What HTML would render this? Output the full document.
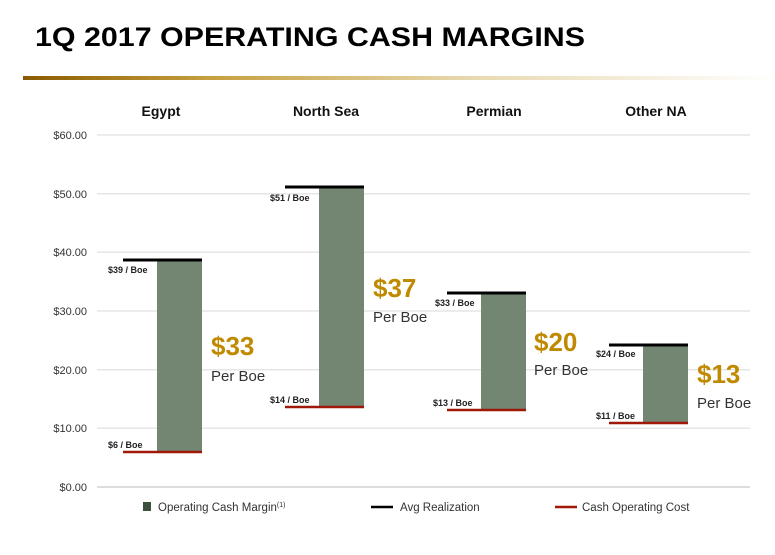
<!DOCTYPE html>
<html><head><meta charset="utf-8"><style>
html,body{margin:0;padding:0;background:#fff;}
svg{display:block;font-family:"Liberation Sans",sans-serif;}
</style></head><body>
<svg width="775" height="555" viewBox="0 0 775 555">
<defs>
<linearGradient id="g" x1="0" x2="1" y1="0" y2="0">
<stop offset="0" stop-color="#8a5a00"/><stop offset="0.25" stop-color="#c7a040"/><stop offset="0.6" stop-color="#e8d9b0"/><stop offset="1" stop-color="#fff"/>
</linearGradient>
</defs>
<text x="35" y="46" font-size="27" font-weight="bold" textLength="550" lengthAdjust="spacingAndGlyphs" fill="#000">1Q 2017 OPERATING CASH MARGINS</text>
<rect x="23" y="76" width="752" height="4" fill="url(#g)"/>
<g font-size="14" font-weight="bold" fill="#111" text-anchor="middle">
<text x="161" y="116">Egypt</text><text x="326" y="116">North Sea</text><text x="494" y="116">Permian</text><text x="656" y="116">Other NA</text>
</g>
<g stroke="#e6e6e6" stroke-width="1.5">
<line x1="97" x2="750" y1="135" y2="135"/><line x1="97" x2="750" y1="193.7" y2="193.7"/><line x1="97" x2="750" y1="252.3" y2="252.3"/><line x1="97" x2="750" y1="311" y2="311"/><line x1="97" x2="750" y1="369.7" y2="369.7"/><line x1="97" x2="750" y1="428.3" y2="428.3"/><line x1="97" x2="750" y1="487" y2="487" stroke="#ddd" stroke-width="2"/>
</g>
<g font-size="11" fill="#333" text-anchor="end">
<text x="87" y="139">$60.00</text><text x="87" y="198">$50.00</text><text x="87" y="256">$40.00</text><text x="87" y="315">$30.00</text><text x="87" y="374">$20.00</text><text x="87" y="432">$10.00</text><text x="87" y="491">$0.00</text>
</g>
<g fill="#728672">
<rect x="157" y="260" width="45" height="192"/>
<rect x="319" y="187" width="45" height="220"/>
<rect x="481" y="293" width="45" height="117"/>
<rect x="643" y="345" width="45" height="78"/>
</g>
<g stroke="#000" stroke-width="3">
<line x1="123" x2="202" y1="260" y2="260"/><line x1="285" x2="364" y1="187" y2="187"/><line x1="447" x2="526" y1="293" y2="293"/><line x1="609" x2="688" y1="345" y2="345"/>
</g>
<g stroke="#a01808" stroke-width="2.5">
<line x1="123" x2="202" y1="452" y2="452"/><line x1="285" x2="364" y1="407" y2="407"/><line x1="447" x2="526" y1="410" y2="410"/><line x1="609" x2="688" y1="423" y2="423"/>
</g>
<g font-size="9" font-weight="bold" fill="#222">
<text x="108" y="273">$39 / Boe</text><text x="108" y="448">$6 / Boe</text>
<text x="270" y="201">$51 / Boe</text><text x="270" y="403">$14 / Boe</text>
<text x="435" y="306">$33 / Boe</text><text x="433" y="406">$13 / Boe</text>
<text x="596" y="357">$24 / Boe</text><text x="596" y="419">$11 / Boe</text>
</g>
<g font-size="26" font-weight="bold" fill="#c08a00">
<text x="211" y="355">$33</text><text x="373" y="297">$37</text><text x="534" y="351">$20</text><text x="697" y="383">$13</text>
</g>
<g font-size="15" fill="#333">
<text x="211" y="381">Per Boe</text><text x="373" y="322">Per Boe</text><text x="534" y="375">Per Boe</text><text x="697" y="408">Per Boe</text>
</g>
<rect x="143" y="502" width="8" height="9" fill="#3d4f3d"/>
<text x="158" y="511" font-size="11.5" fill="#333">Operating Cash Margin<tspan font-size="7" dy="-4">(1)</tspan></text>
<line x1="371" x2="393" y1="507" y2="507" stroke="#000" stroke-width="2.5"/>
<text x="400" y="511" font-size="11.5" fill="#333">Avg Realization</text>
<line x1="555" x2="577" y1="507" y2="507" stroke="#a01808" stroke-width="2.5"/>
<text x="582" y="511" font-size="11.5" fill="#333">Cash Operating Cost</text>
</svg>
</body></html>
